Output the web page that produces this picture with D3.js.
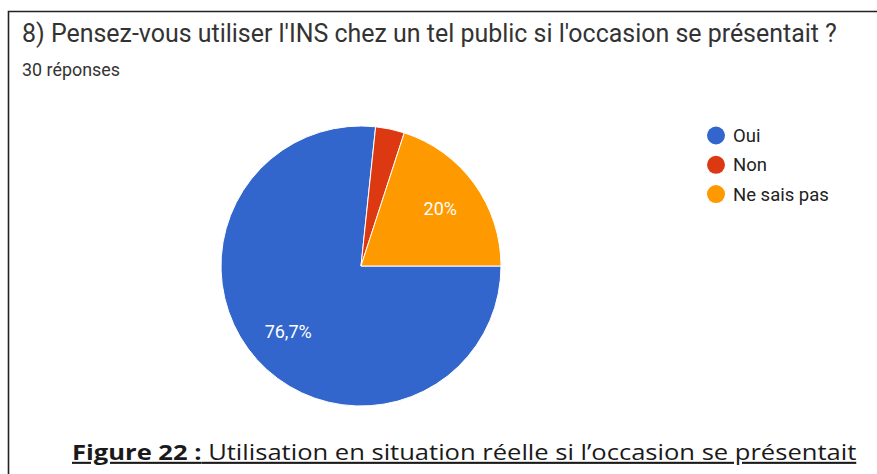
<!DOCTYPE html>
<html><head><meta charset="utf-8">
<script src="https://cdn.jsdelivr.net/npm/d3@7"></script>
<style>body{margin:0;background:#fff}svg{display:block}</style>
</head><body>
<svg id="c" width="877" height="474"></svg>
<script>
const categories = ["Oui", "Non", "Ne sais pas"];
const counts = [23, 1, 6];
const colors = ["#3366cc", "#dc3912", "#ff9900"];
const sliceLabels = ["76,7%", "", "20%"];
const title = "8) Pensez-vous utiliser l'INS chez un tel public si l'occasion se présentait ?";
const subtitle = "30 réponses";
const captionBold = "Figure 22 :";
const captionRest = " Utilisation en situation réelle si l\u2019occasion se présentait";

const svg = d3.select("#c");
svg.append("path").attr("d","M8.5,474 V11.5 H877").attr("fill","none").attr("stroke","#222").attr("stroke-width",1.6);

function fitWidth(sel, w){
  const cur = sel.node().getComputedTextLength();
  const fs = parseFloat(sel.attr("font-size"));
  sel.attr("font-size", fs*w/cur);
}
const t = svg.append("text").attr("x",22).attr("y",42).attr("font-family","Roboto").attr("font-size",24)
  .attr("fill","#333").text(title);
fitWidth(t, 815);
const st = svg.append("text").attr("x",22).attr("y",76).attr("font-family","Roboto").attr("font-size",16)
  .attr("fill","#333").text(subtitle);
fitWidth(st, 98);

const cx=361, cy=266, r=140;
const pie = d3.pie().sort(null).value(d=>d).startAngle(Math.PI/2).endAngle(Math.PI/2+2*Math.PI);
const arcs = pie(counts);
const arc = d3.arc().innerRadius(0).outerRadius(r);
const g = svg.append("g").attr("transform",`translate(${cx},${cy})`);
g.selectAll("path").data(arcs).join("path").attr("d",arc)
  .attr("fill",(d,i)=>colors[i]).attr("stroke","#fff").attr("stroke-width",1);
const labelArc = d3.arc().innerRadius(r*0.7).outerRadius(r*0.7);
g.selectAll("text.lbl").data(arcs).join("text").attr("class","lbl")
  .attr("transform",d=>`translate(${labelArc.centroid(d)})`)
  .attr("text-anchor","middle").attr("dy","0.35em")
  .attr("font-family","Roboto").attr("font-size",18).attr("fill","#fff").text((d,i)=>sliceLabels[i]);

const leg = svg.append("g").attr("transform","translate(716,135.5)");
const li = leg.selectAll("g").data(categories).join("g").attr("transform",(d,i)=>`translate(0,${i*29.3})`);
li.append("circle").attr("r",9).attr("fill",(d,i)=>colors[i]);
li.append("text").attr("x",17).attr("dy","0.35em").attr("font-family","Roboto").attr("font-size",18.5)
  .attr("fill","#222").text(d=>d);

const cap = svg.append("text").attr("font-family","Open Sans").attr("font-size",21)
  .attr("fill","#1a1a1a").attr("text-decoration","underline");
cap.append("tspan").attr("font-weight","bold").text(captionBold);
cap.append("tspan").text(captionRest);
const cw = cap.node().getComputedTextLength();
cap.attr("transform",`translate(72,460) scale(${785/cw},1)`);
</script>
</body></html>
